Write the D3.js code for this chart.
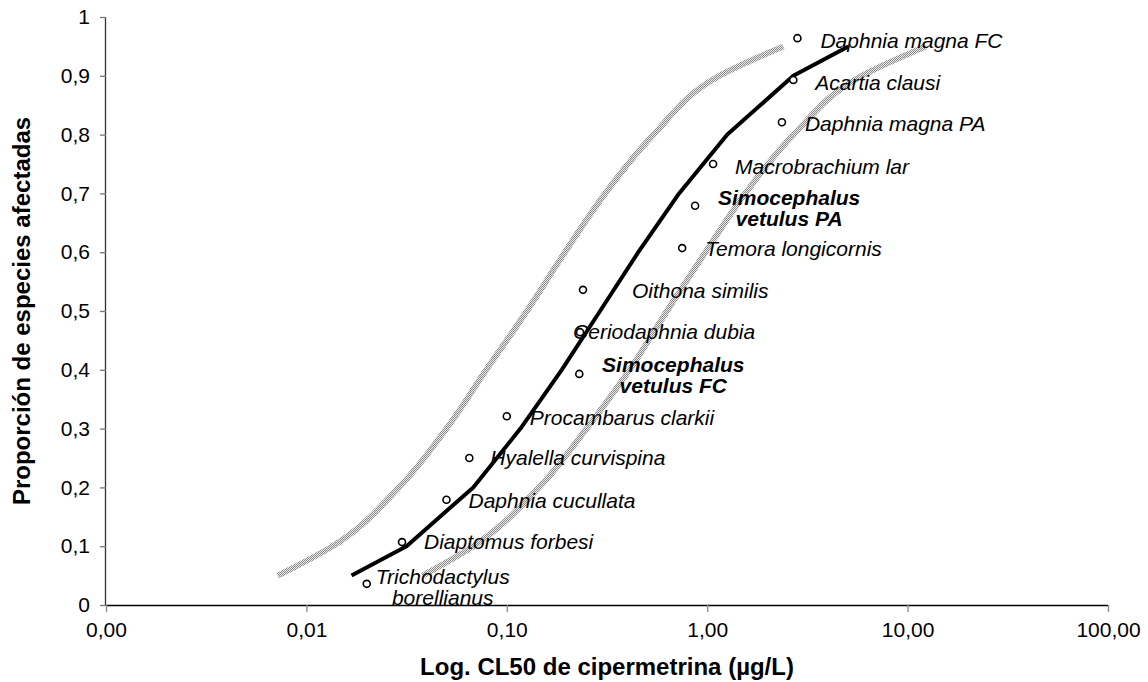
<!DOCTYPE html>
<html>
<head>
  <meta charset="utf-8"/>
  <title>SSD cipermetrina</title>
  <style>
    body { margin: 0; background: #fff; }
    text { font-family: Arial, "Liberation Sans", sans-serif; }
  </style>
</head>
<body>
<div id="graph"></div>
<script src="https://cdnjs.cloudflare.com/ajax/libs/d3/7.8.5/d3.min.js"></script>
<script>
    // species, in rank order
    var species = ["Trichodactylus\nborellianus", "Diaptomus forbesi", "Daphnia cucullata",
      "Hyalella curvispina", "Procambarus clarkii", "Simocephalus\nvetulus FC", "Ceriodaphnia dubia",
      "Oithona similis", "Temora longicornis", "Simocephalus\nvetulus PA", "Macrobrachium lar",
      "Daphnia magna PA", "Acartia clausi", "Daphnia magna FC"];
    // CL50 (ug/L) and plotted proportion for each species
    var cl50 = [0.020, 0.030, 0.050, 0.065, 0.100, 0.230, 0.232, 0.240, 0.75, 0.87, 1.07, 2.36, 2.69, 2.82];
    var proportion = [0.036, 0.107, 0.179, 0.250, 0.321, 0.393, 0.464, 0.536, 0.607, 0.679, 0.750, 0.821, 0.893, 0.964];
    var boldSpecies = ["Simocephalus\nvetulus FC", "Simocephalus\nvetulus PA"];

    // fitted curve and its confidence limits
    var fitP = [0.05, 0.10, 0.20, 0.30, 0.40, 0.50, 0.60, 0.70, 0.80, 0.90, 0.95];
    var fitX = [0.0168, 0.0316, 0.068, 0.117, 0.188, 0.292, 0.453, 0.724, 1.26, 2.69, 5.06];
    var lowerX = [0.0072, 0.0135, 0.029, 0.050, 0.079, 0.126, 0.195, 0.31, 0.54, 1.15, 2.4];
    var upperX = [0.038, 0.068, 0.145, 0.25, 0.41, 0.63, 0.98, 1.55, 2.7, 5.9, 12.3];

    var xTicks = [0.001, 0.01, 0.1, 1, 10, 100];
    var yTicks = [0, 0.1, 0.2, 0.3, 0.4, 0.5, 0.6, 0.7, 0.8, 0.9, 1];

    // label placement relative to each point (layout only)
    var labelPos = [
      {dx: 76, dy: 0, anchor: "middle"}, {dx: 22, dy: 7}, {dx: 22, dy: 8},
      {dx: 21, dy: 7}, {dx: 23, dy: 9}, {dx: 94, dy: -2, anchor: "middle"}, {dx: -7, dy: 7},
      {dx: 49, dy: 8}, {dx: 23, dy: 8}, {dx: 94, dy: -1, anchor: "middle"}, {dx: 22, dy: 10},
      {dx: 23, dy: 9}, {dx: 22, dy: 10}, {dx: 23, dy: 10}
    ];

    var width = 1148, height = 682;
    var mLeft = 106, mRight = 1108, mTop = 17, mBottom = 605;

    var x = d3.scaleLog().domain([0.001, 100]).range([mLeft, mRight]);
    var y = d3.scaleLinear().domain([0, 1]).range([mBottom, mTop]);
    var comma = function(s) { return s.replace(".", ","); };

    var svg = d3.select("#graph").append("svg")
        .attr("width", width)
        .attr("height", height);

    // checker pattern for the confidence bands
    var pat = svg.append("defs").append("pattern")
        .attr("id", "dots")
        .attr("patternUnits", "userSpaceOnUse")
        .attr("width", 2).attr("height", 2);
    pat.append("rect").attr("width", 2).attr("height", 2).attr("fill", "#ebebeb");
    pat.append("rect").attr("width", 1).attr("height", 1).attr("fill", "#8a8a8a");
    pat.append("rect").attr("x", 1).attr("y", 1).attr("width", 1).attr("height", 1).attr("fill", "#8a8a8a");

    // axes
    var xAxis = svg.append("g")
        .attr("transform", "translate(0," + mBottom + ")")
        .call(d3.axisBottom(x).tickValues(xTicks).tickSize(7).tickPadding(10)
          .tickFormat(function(d) { return comma(d3.format(".2f")(d)); }));
    xAxis.select(".domain").attr("stroke", "#000").attr("stroke-width", 1.3).attr("d", "M" + mLeft + ",0.5H" + mRight);
    xAxis.selectAll(".tick line").attr("stroke", "#888").attr("stroke-width", 1.3);
    xAxis.selectAll(".tick text").attr("font-size", 21).attr("fill", "#000")
        .style("font-family", "Arial, 'Liberation Sans', sans-serif");

    var yAxis = svg.append("g")
        .attr("transform", "translate(" + mLeft + ",0)")
        .call(d3.axisLeft(y).tickValues(yTicks).tickSize(6).tickPadding(10)
          .tickFormat(function(d) { return comma(String(+d.toFixed(1))); }));
    yAxis.select(".domain").attr("stroke", "#333").attr("stroke-width", 1.3).attr("d", "M-0.5," + mTop + "V" + mBottom);
    yAxis.selectAll(".tick line").attr("stroke", "#777").attr("stroke-width", 1.3);
    yAxis.selectAll(".tick text").attr("font-size", 21).attr("fill", "#000")
        .style("font-family", "Arial, 'Liberation Sans', sans-serif");

    // confidence bands
    var band = d3.line()
        .x(function(d) { return x(d[0]); })
        .y(function(d) { return y(d[1]); })
        .curve(d3.curveMonotoneY);
    [lowerX, upperX].forEach(function(arr) {
      svg.append("path")
          .datum(arr.map(function(v, i) { return [v, fitP[i]]; }))
          .attr("d", band)
          .attr("fill", "none")
          .attr("stroke", "url(#dots)")
          .attr("stroke-width", 6);
    });

    // fitted line
    var fit = d3.line()
        .x(function(d) { return x(d[0]); })
        .y(function(d) { return y(d[1]); });
    svg.append("path")
        .datum(fitX.map(function(v, i) { return [v, fitP[i]]; }))
        .attr("d", fit)
        .attr("fill", "none")
        .attr("stroke", "#000")
        .attr("stroke-width", 4)
        .attr("stroke-linejoin", "round");

    // data points
    var pts = species.map(function(s, i) { return {name: s, x: cl50[i], p: proportion[i], pos: labelPos[i]}; });
    svg.selectAll("circle.pt").data(pts).enter().append("circle")
        .attr("class", "pt")
        .attr("cx", function(d) { return x(d.x); })
        .attr("cy", function(d) { return y(d.p); })
        .attr("r", 3.5)
        .attr("fill", "#fff")
        .attr("stroke", "#000")
        .attr("stroke-width", 1.6);

    // species labels
    var labels = svg.selectAll("text.lab").data(pts).enter().append("text")
        .attr("class", "lab")
        .attr("font-size", 21)
        .attr("font-style", "italic")
        .attr("font-weight", function(d) { return boldSpecies.indexOf(d.name) >= 0 ? "bold" : "normal"; })
        .attr("text-anchor", function(d) { return d.pos.anchor || "start"; })
        .attr("transform", function(d) {
          return "translate(" + (x(d.x) + d.pos.dx) + "," + (y(d.p) + d.pos.dy) + ")";
        });
    labels.each(function(d) {
      var t = d3.select(this);
      d.name.split("\n").forEach(function(line, k) {
        t.append("tspan").attr("x", 0).attr("y", k * 21.5).text(line);
      });
    });

    // axis titles
    svg.append("text")
        .attr("x", (mLeft + mRight) / 2)
        .attr("y", 675)
        .attr("text-anchor", "middle")
        .attr("font-size", 24)
        .attr("font-weight", "bold")
        .text("Log. CL50 de cipermetrina (µg/L)");
    svg.append("text")
        .attr("transform", "translate(30," + (mTop + mBottom) / 2 + ") rotate(-90)")
        .attr("text-anchor", "middle")
        .attr("font-size", 24)
        .attr("font-weight", "bold")
        .text("Proporción de especies afectadas");
</script>
</body>
</html>
